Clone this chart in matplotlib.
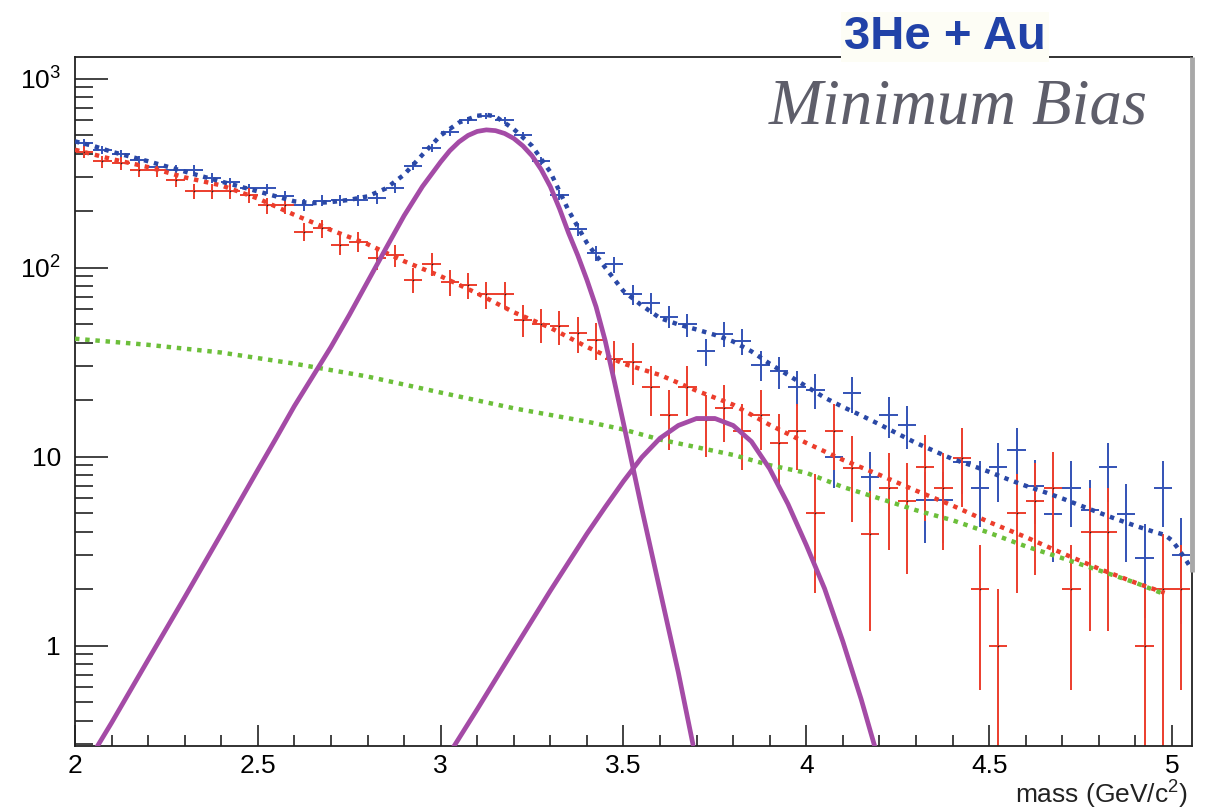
import numpy as np
import matplotlib
matplotlib.use('Agg')
import matplotlib.pyplot as plt
from matplotlib.ticker import (FixedLocator, FixedFormatter, MultipleLocator,
                               LogLocator, NullFormatter, FuncFormatter)

plt.rcParams['font.family'] = ['Liberation Sans', 'DejaVu Sans']
plt.rcParams['mathtext.fontset'] = 'custom'
plt.rcParams['mathtext.rm'] = 'Liberation Sans'
plt.rcParams['mathtext.it'] = 'Liberation Sans:italic'

# ---------------- data ----------------
mass = [2.025, 2.075, 2.125, 2.175, 2.225, 2.275, 2.325, 2.375, 2.425, 2.475,
        2.525, 2.575, 2.625, 2.675, 2.725, 2.775, 2.825, 2.875, 2.925, 2.975,
        3.025, 3.075, 3.125, 3.175, 3.225, 3.275, 3.325, 3.375, 3.425, 3.475,
        3.525, 3.575, 3.625, 3.675, 3.725, 3.775, 3.825, 3.875, 3.925, 3.975,
        4.025, 4.075, 4.125, 4.175, 4.225, 4.275, 4.325, 4.375, 4.425, 4.475,
        4.525, 4.575, 4.625, 4.675, 4.725, 4.775, 4.825, 4.875, 4.925, 4.975,
        5.025]
half_bin = 0.025

blue_counts = [455, 420, 398, 372, 340, 330, 329, 298, 282, 262,
               262, 238, 215, 226, 228, 228, 232, 265, 345, 430,
               520, 600, 635, 600, 500, 366, 243, 160, 119, 104,
               72, 65, 55, 50, 36, 44.5, 41, 30.5, 28.2, 23.4,
               22.5, 10, 21.6, 7.8, 16.6, 14.7, 5.9, 5.9, 9.3, 6.85,
               8.75, 10.8, 7.0, 4.95, 6.85, 5.2, 8.75, 4.95, 2.9, 6.85,
               3.0]
blue_err = [21.3, 20.5, 20.0, 19.3, 18.4, 18.2, 18.1, 17.3, 16.8, 16.2,
            16.2, 15.4, 14.7, 15.0, 15.1, 15.1, 15.2, 16.3, 18.6, 20.7,
            22.8, 24.5, 25.2, 24.5, 22.4, 19.1, 15.6, 12.6, 10.9, 10.2,
            8.5, 8.1, 7.4, 7.1, 6.0, 6.7, 6.4, 5.5, 5.3, 4.8,
            4.7, 3.2, 4.6, 2.8, 4.1, 3.8, 2.4, 2.4, 3.0, 2.6,
            3.0, 3.3, 2.6, 2.2, 2.6, 2.3, 3.0, 2.2, 1.5, 2.6,
            1.7]

red_counts = [411, 364, 357, 329, 329, 292, 253, 253, 253, 242,
              213, 213, 155, 161, 132, 137, 112, 116, 86, 105,
              84, 81, 72, 72, 53, 50, 49, 45, 41.6, 33,
              31.8, 23.2, 16.6, 23.2, 15.6, 18, 13.7, 16.6, 11.8, 13.7,
              5, 13.7, 8.7, 3.9, 6.8, 5.8, 8.75, 6.8, 9.8, 2,
              1, 5, 5.8, 6.8, 2, 4, 4, np.nan, 1, 2,
              2]
red_err = [29, 27, 27, 26, 26, 24, 22.5, 22.5, 22.5, 22,
           20.6, 20.6, 17.6, 18, 16.2, 16.5, 15, 15.2, 13.1, 14.5,
           13, 12.7, 12, 12, 10.3, 10, 9.9, 9.5, 9.1, 8.1,
           8, 6.8, 5.8, 6.8, 5.6, 6, 5.2, 5.8, 4.9, 5.2,
           3.1, 5.2, 4.2, 2.7, 3.6, 3.4, 4.2, 3.6, 4.4, 1.42,
           1.0, 3.1, 3.45, 3.8, 1.42, 2.8, 2.8, np.nan, 1.0, 1.9,
           1.42]

# total fit (blue dotted)
tot_x = [2.0, 2.05, 2.1, 2.2, 2.3, 2.4, 2.5, 2.55, 2.6, 2.65, 2.7, 2.75, 2.8,
         2.85, 2.9, 2.95, 3.0, 3.05, 3.1, 3.125, 3.15, 3.2, 3.25, 3.3, 3.35,
         3.4, 3.45, 3.5, 3.55, 3.6, 3.65, 3.7, 3.75, 3.8, 3.85, 3.9, 3.95,
         4.0, 4.05, 4.1, 4.15, 4.2, 4.25, 4.3, 4.35, 4.4, 4.45, 4.5, 4.55,
         4.6, 4.65, 4.7, 4.75, 4.8, 4.85, 4.9, 4.95, 4.98, 5.0, 5.02, 5.04,
         5.05]
tot_y = [465, 440, 410, 365, 322, 285, 253, 238, 224, 219, 222, 228, 238,
         262, 310, 395, 500, 585, 635, 643, 630, 540, 440, 320, 200,
         135, 100, 75, 63, 54, 50, 47, 44, 40.6, 36, 31, 27,
         23.5, 20.5, 18.3, 16.5, 14.8, 13.2, 11.8, 10.7, 9.7, 9.0, 8.3, 7.6,
         7.0, 6.5, 6.0, 5.5, 5.05, 4.65, 4.3, 4.0, 3.85, 3.6, 3.2, 2.8,
         2.6]

# background fit (red dotted)
bkg_x = [2.0, 2.1, 2.2, 2.3, 2.4, 2.5, 2.6, 2.7, 2.8, 2.9, 3.0, 3.1, 3.2,
         3.3, 3.4, 3.5, 3.6, 3.7, 3.8, 3.9, 4.0, 4.1, 4.2, 4.3, 4.4, 4.5,
         4.6, 4.7, 4.8, 4.9, 4.98]
bkg_y = [420, 375, 340, 300, 272, 232, 190, 158, 133, 108, 90, 73, 58,
         48, 38, 31, 27, 22.3, 18.8, 14.7, 11.8, 9.6, 8.0, 6.6, 5.5, 4.5,
         3.75, 3.08, 2.55, 2.15, 1.9]

# correlated component (green dotted)
cor_x = [2.0, 2.2, 2.4, 2.6, 2.8, 3.0, 3.2, 3.4, 3.5, 3.6, 3.8, 3.9, 4.0,
         4.1, 4.2, 4.3, 4.4, 4.5, 4.6, 4.7, 4.8, 4.9, 4.97]
cor_y = [42, 39, 35.5, 31, 26.5, 21.8, 18, 15.3, 13.9, 12.3, 10.2, 9.0, 8.2,
         6.9, 6.0, 5.2, 4.6, 3.95, 3.35, 2.9, 2.5, 2.15, 1.9]

# J/psi peak (magenta)
jpsi_x = [2.05, 2.1, 2.2, 2.3, 2.4, 2.5, 2.55, 2.6, 2.65, 2.7, 2.75, 2.8,
          2.85, 2.9, 2.95, 3.0, 3.025, 3.05, 3.075, 3.1, 3.125, 3.15, 3.175,
          3.2, 3.225, 3.25, 3.275, 3.3, 3.325, 3.35, 3.375, 3.4, 3.425, 3.45,
          3.475, 3.5, 3.55, 3.6, 3.65, 3.69]
jpsi_y = [0.27, 0.39, 0.84, 1.8, 3.9, 8.5, 12.5, 18.5, 26.5, 38, 56, 84,
          126, 188, 268, 362, 415, 462, 500, 525, 535, 530, 512,
          482, 440, 390, 330, 268, 205, 152, 116, 86, 62, 41,
          25, 15, 5.3, 1.95, 0.72, 0.3]

# psi' peak (magenta)
psi2_x = [3.03, 3.1, 3.2, 3.3, 3.4, 3.45, 3.5, 3.55, 3.6, 3.65, 3.7, 3.75,
          3.8, 3.85, 3.9, 3.95, 4.0, 4.05, 4.1, 4.15, 4.19]
psi2_y = [0.28, 0.46, 0.95, 1.95, 3.9, 5.4, 7.4, 9.9, 12.5, 14.6, 15.9, 15.9,
          14.6, 12.0, 8.6, 5.6, 3.4, 2.0, 1.05, 0.52, 0.28]

y_ticks = [1, 10, 100, 1000]
y_tick_labels = ['1', '10', '$10^{2}$', '$10^{3}$']

# ---------------- style ----------------
BLUE = '#3352b5'
BLUE_FIT = '#2a48a6'
RED = '#ec3d2c'
GREEN = '#6cbf3a'
MAGENTA = '#a44ba6'

W, H = 1206, 810
fig = plt.figure(figsize=(W / 100, H / 100), dpi=100)
ax = fig.add_axes([75 / W, 1 - 746 / H, (1191.7 - 75) / W, (746 - 57) / H])
ax.set_yscale('log', nonpositive='clip')
ax.set_xlim(2.0, 5.054)
ax.set_ylim(0.294, 1300)

ax.errorbar(mass, blue_counts, xerr=half_bin, yerr=blue_err, fmt='none',
            ecolor=BLUE, elinewidth=1.4, capsize=0, zorder=2)
ax.errorbar(mass, red_counts, xerr=half_bin, yerr=red_err, fmt='none',
            ecolor=RED, elinewidth=1.4, capsize=0, zorder=2.1)
ax.plot(mass, red_counts, ls='none', marker='s', ms=1.0, mew=0,
        color='#222222', zorder=2.2)

dots = (0, (1.0, 1.3))
ax.plot(cor_x, cor_y, color=GREEN, lw=3.2, ls=dots, dash_capstyle='butt', zorder=3)
ax.plot(bkg_x, bkg_y, color=RED, lw=3.2, ls=dots, dash_capstyle='butt', zorder=3.1)
ax.plot(tot_x, tot_y, color=BLUE_FIT, lw=3.2, ls=dots, dash_capstyle='butt', zorder=3.2)

ax.plot(jpsi_x, jpsi_y, color=MAGENTA, lw=3.4, solid_capstyle='round',
        solid_joinstyle='round', zorder=4)
ax.plot(psi2_x, psi2_y, color=MAGENTA, lw=3.4, solid_capstyle='round',
        solid_joinstyle='round', zorder=4)

# axes / ticks in ROOT style
ax.yaxis.set_major_locator(FixedLocator(y_ticks))
ax.yaxis.set_major_formatter(FixedFormatter(y_tick_labels))
ax.yaxis.set_minor_locator(LogLocator(base=10, subs=np.arange(2, 10)))
ax.yaxis.set_minor_formatter(NullFormatter())
ax.xaxis.set_major_locator(MultipleLocator(0.5))
ax.xaxis.set_minor_locator(MultipleLocator(0.1))
ax.xaxis.set_major_formatter(FuncFormatter(lambda v, p: '%g' % v))
ax.tick_params(axis='y', which='major', direction='in', length=24, width=1.2,
               labelsize=19, pad=10, color='#222222')
ax.tick_params(axis='y', which='minor', direction='in', length=13, width=1.2,
               color='#222222')
ax.tick_params(axis='x', which='major', direction='in', length=15, width=1.2,
               labelsize=19, pad=6, color='#222222')
ax.tick_params(axis='x', which='minor', direction='in', length=8, width=1.2,
               color='#222222')
for s in ax.spines.values():
    s.set_linewidth(1.3)
    s.set_color('#222222')

# grey bar along the upper right edge
ax.plot([1.0, 1.0], [(746 - 572) / (746 - 57), 1.0], transform=ax.transAxes,
        color='#a8a8a8', lw=3.5, clip_on=False, zorder=5, solid_capstyle='butt')

fig.text(1188 / W, 1 - 804 / H, 'mass (GeV/c$^{2}$)', ha='right', va='baseline',
         fontsize=19, color='#222222')
fig.text(945 / W, 1 - 49 / H, '3He + Au', ha='center', va='baseline',
         fontsize=34, fontweight='bold', color='#2142a8',
         bbox=dict(facecolor='#fdfdf5', edgecolor='none', pad=2))
fig.text(1148 / W, 1 - 123.5 / H, 'Minimum Bias', ha='right', va='baseline',
         fontsize=46.5, style='italic', family=['Liberation Serif', 'DejaVu Serif'],
         color='#5e5e6a')

fig.savefig('out.png', dpi=100)
